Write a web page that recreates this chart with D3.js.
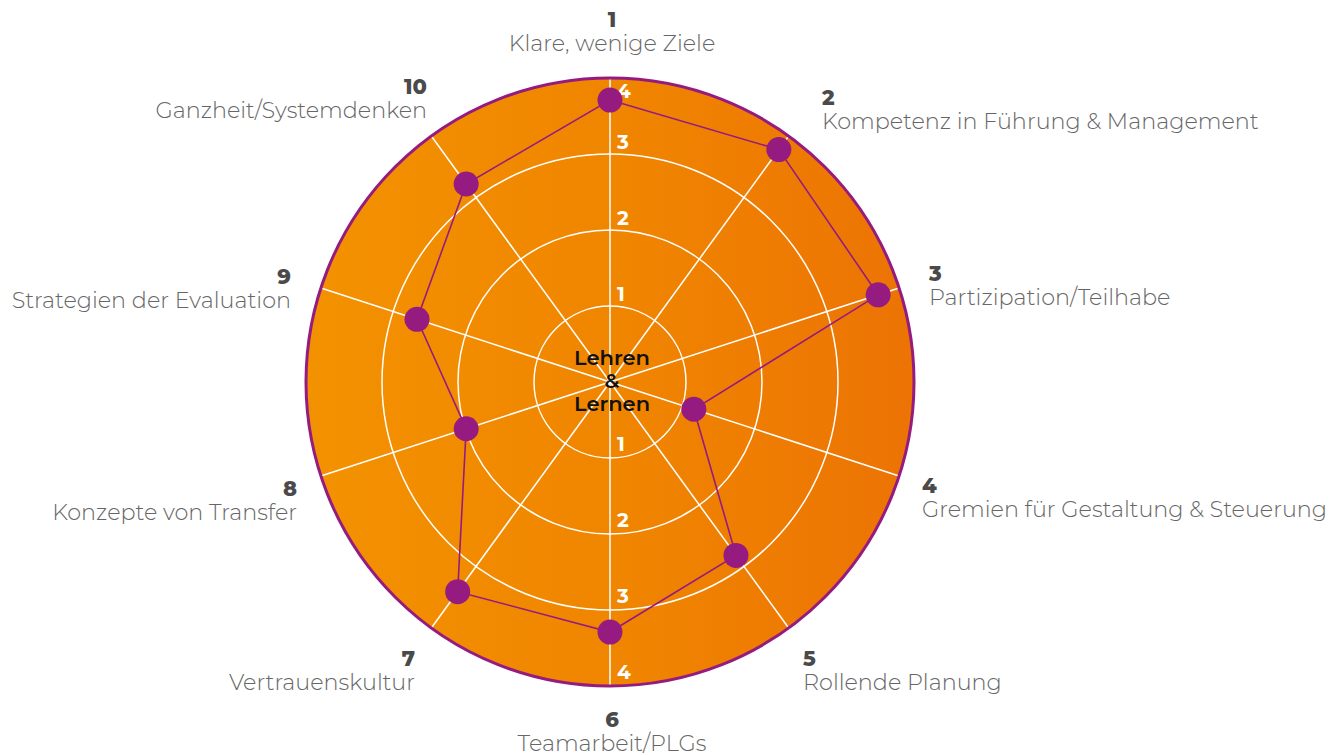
<!DOCTYPE html>
<html>
<head>
<meta charset="utf-8">
<script src="https://cdn.jsdelivr.net/npm/d3@7"></script>
<style>
  body { margin: 0; background: #fff; }
  svg { display: block; }
</style>
</head>
<body>
<div id="chart"></div>
<script>
// dimensions
const width = 1329, height = 755;
const cx = 610, cy = 382, outerR = 304;

// data
const axisNumbers = ["1", "2", "3", "4", "5", "6", "7", "8", "9", "10"];
const axisLabels = [
    "Klare, wenige Ziele",
    "Kompetenz in Führung & Management",
    "Partizipation/Teilhabe",
    "Gremien für Gestaltung & Steuerung",
    "Rollende Planung",
    "Teamarbeit/PLGs",
    "Vertrauenskultur",
    "Konzepte von Transfer",
    "Strategien der Evaluation",
    "Ganzheit/Systemdenken"
];
const values = [3.71, 3.78, 3.71, 1.16, 2.82, 3.29, 3.41, 1.99, 2.67, 3.22];
const ringTicks = [1, 2, 3, 4];

// label anchor per axis (left / right / middle)
const labelPos = [
    { x: 612, y: 27, anchor: "middle" },
    { x: 822, y: 105, anchor: "start" },
    { x: 929, y: 281, anchor: "start" },
    { x: 922, y: 493, anchor: "start" },
    { x: 803, y: 666, anchor: "start" },
    { x: 612, y: 727, anchor: "middle" },
    { x: 415, y: 666, anchor: "end" },
    { x: 297, y: 496, anchor: "end" },
    { x: 291, y: 284, anchor: "end" },
    { x: 427, y: 94, anchor: "end" }
];

const svg = d3.select("#chart")
    .append("svg")
        .attr("width", width)
        .attr("height", height);

const defs = svg.append("defs");
const grad = defs.append("linearGradient")
    .attr("id", "bg")
    .attr("x1", "0%").attr("x2", "100%")
    .attr("y1", "0%").attr("y2", "0%");
grad.append("stop").attr("offset", "0%").attr("stop-color", "#f39200");
grad.append("stop").attr("offset", "55%").attr("stop-color", "#f08400");
grad.append("stop").attr("offset", "100%").attr("stop-color", "#ec7304");

const r = d3.scaleLinear().domain([0, 4]).range([0, outerR]);
const angle = d3.scaleLinear().domain([0, axisLabels.length]).range([0, 2 * Math.PI]);

const g = svg.append("g")
    .attr("transform", `translate(${cx},${cy})`);

// background disk
g.append("circle")
    .attr("r", outerR)
    .attr("fill", "url(#bg)");

// rings
g.selectAll(".ring")
    .data(ringTicks.slice(0, -1))
    .join("circle")
        .attr("class", "ring")
        .attr("r", d => r(d))
        .attr("fill", "none")
        .attr("stroke", "#fff")
        .attr("stroke-width", 1.5);

// spokes
g.selectAll(".spoke")
    .data(axisLabels)
    .join("line")
        .attr("class", "spoke")
        .attr("x1", 0).attr("y1", 0)
        .attr("x2", (d, i) => r(4) * Math.sin(angle(i)))
        .attr("y2", (d, i) => -r(4) * Math.cos(angle(i)))
        .attr("stroke", "#fff")
        .attr("stroke-width", 1.5);

// outer border
g.append("circle")
    .attr("r", outerR)
    .attr("fill", "none")
    .attr("stroke", "#951b81")
    .attr("stroke-width", 3);

// ring numbers above and below centre
const tickFont = "'Montserrat', 'Lato', 'Noto Sans', sans-serif";
g.selectAll(".tickUp")
    .data(ringTicks)
    .join("text")
        .attr("class", "tickUp")
        .attr("x", 7)
        .attr("y", d => d === 4 ? -r(d) + 20 : -r(d) - 5)
        .attr("fill", "#fff")
        .attr("font-family", tickFont)
        .attr("font-weight", 700)
        .attr("font-size", 20)
        .text(d => d);
g.selectAll(".tickDown")
    .data(ringTicks)
    .join("text")
        .attr("class", "tickDown")
        .attr("x", 7)
        .attr("y", d => r(d) - 7)
        .attr("fill", "#fff")
        .attr("font-family", tickFont)
        .attr("font-weight", 700)
        .attr("font-size", 20)
        .text(d => d);

// centre label
g.selectAll(".centre")
    .data(["Lehren", "&", "Lernen"])
    .join("text")
        .attr("class", "centre")
        .attr("x", 2)
        .attr("y", (d, i) => -17 + i * 23)
        .attr("text-anchor", "middle")
        .attr("font-family", tickFont)
        .attr("font-weight", 600)
        .attr("font-size", 21)
        .attr("fill", "#111")
        .text(d => d);

// data polygon
const pts = values.map((v, i) => [r(v) * Math.sin(angle(i)), -r(v) * Math.cos(angle(i))]);
g.append("path")
    .datum(pts)
    .attr("fill", "none")
    .attr("stroke", "#951b81")
    .attr("stroke-width", 1.6)
    .attr("d", d3.line().curve(d3.curveLinearClosed));

g.selectAll(".dot")
    .data(pts)
    .join("circle")
        .attr("class", "dot")
        .attr("cx", d => d[0])
        .attr("cy", d => d[1])
        .attr("r", 12.5)
        .attr("fill", "#951b81");

// axis labels
const lab = svg.selectAll(".axisLabel")
    .data(axisLabels)
    .join("g")
        .attr("class", "axisLabel")
        .attr("transform", (d, i) => `translate(${labelPos[i].x},${labelPos[i].y})`);

lab.append("text")
    .attr("text-anchor", (d, i) => labelPos[i].anchor)
    .attr("font-family", tickFont)
    .attr("font-weight", 800)
    .attr("font-size", 21)
    .attr("fill", "#4a4a4a")
    .text((d, i) => axisNumbers[i]);

lab.append("text")
    .attr("y", 24)
    .attr("text-anchor", (d, i) => labelPos[i].anchor)
    .attr("font-family", tickFont)
    .attr("font-weight", 300)
    .attr("font-size", 22.3)
    .attr("fill", "#666")
    .text(d => d);
</script>
</body>
</html>
